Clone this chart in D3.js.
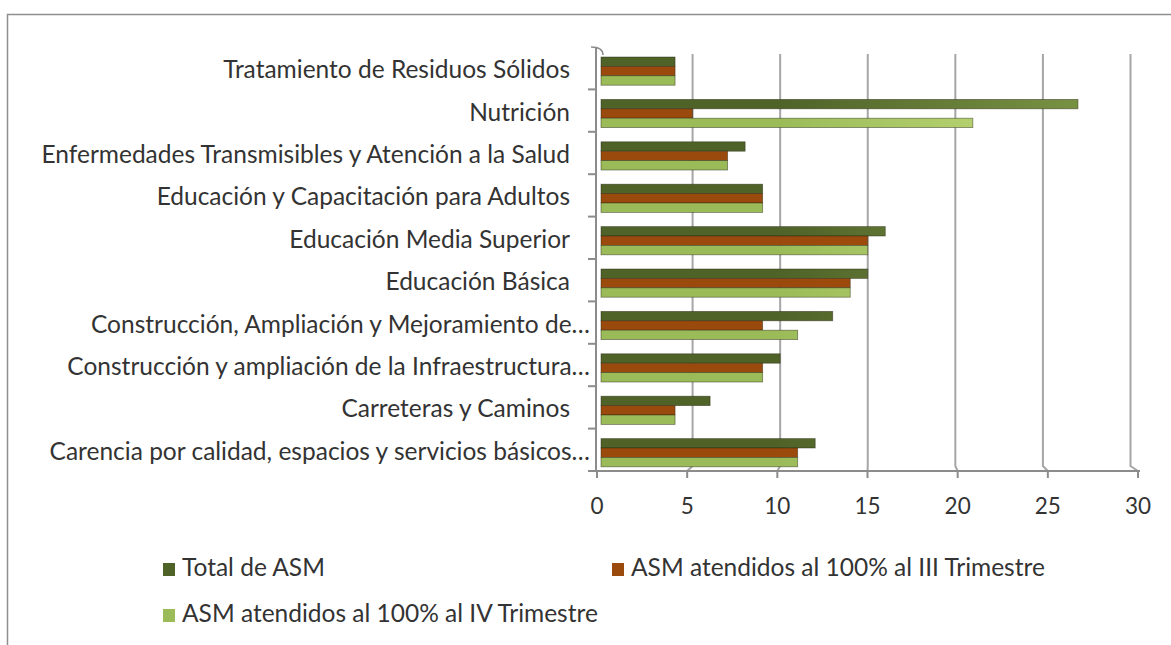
<!DOCTYPE html>
<html>
<head>
<meta charset="utf-8">
<script src="https://cdn.jsdelivr.net/npm/d3@7"></script>
<style>
  body { margin: 0; background: #fff; }
  text { font-family: Lato, "Open Sans", sans-serif; fill: #333; }
</style>
</head>
<body>
<div id="mainDiv"></div>
<script>
'use strict';

var categories = [
    "Tratamiento de Residuos Sólidos",
    "Nutrición",
    "Enfermedades Transmisibles y Atención a la Salud",
    "Educación y Capacitación para Adultos",
    "Educación Media Superior",
    "Educación Básica",
    "Construcción, Ampliación y Mejoramiento de…",
    "Construcción y ampliación de la Infraestructura…",
    "Carreteras y Caminos",
    "Carencia por calidad, espacios y servicios básicos…"
];
var totalASM = [4, 27, 8, 9, 16, 15, 13, 10, 6, 12];
var asmIII   = [4, 5, 7, 9, 15, 14, 9, 9, 4, 11];
var asmIV    = [4, 21, 7, 9, 15, 14, 11, 9, 4, 11];
var seriesNames = ["Total de ASM", "ASM atendidos al 100% al III Trimestre", "ASM atendidos al 100% al IV Trimestre"];
var xTicks = [0, 5, 10, 15, 20, 25, 30];

var myApp = {};

myApp.colors = [["#4f6228", "#7a9444"], ["#9a4a0c", "#a65012"], ["#9bbb59", "#c2dc7c"]];

myApp.appendSvg = function (element, w, h)
{
    return d3.select(element).append("svg")
        .attr("width", w)
        .attr("height", h);
}

myApp.drawChart = function (svg)
{
    var top = 47, bottom = 471;
    var depth = 5;

    // back wall scale (bars, gridlines) and front floor scale (ticks, labels)
    var x = d3.scaleLinear().domain([0, 30]).range([605, 1130.5]);
    var xFront = d3.scaleLinear().domain([0, 30]).range([597, 1138]);
    var y = d3.scaleBand().domain(categories).range([top, bottom]);

    // frame
    svg.append("rect")
        .attr("x", 7.5).attr("y", 14.5)
        .attr("width", 1300).attr("height", 700)
        .attr("fill", "none").attr("stroke", "#8e8e8e").attr("stroke-width", 1.5);

    var defs = svg.append("defs");
    myApp.colors.forEach(function (c, i) {
        var g = defs.append("linearGradient")
            .attr("id", "grad" + i)
            .attr("gradientUnits", "userSpaceOnUse")
            .attr("x1", x(0)).attr("x2", x(28)).attr("y1", 0).attr("y2", 0);
        g.append("stop").attr("offset", "0%").attr("stop-color", c[0]);
        g.append("stop").attr("offset", "35%").attr("stop-color", c[0]);
        g.append("stop").attr("offset", "100%").attr("stop-color", c[1]);
    });

    // gridlines with a small 3D bend toward the floor
    svg.append("g").selectAll("path")
        .data(xTicks.slice(1))
        .enter()
        .append("path")
            .attr("d", function (d) {
                return "M" + x(d) + "," + (top + 7) + "L" + x(d) + "," + (bottom - depth) +
                       "L" + xFront(d) + "," + bottom;
            })
            .attr("fill", "none")
            .attr("stroke", "#a6a6a6")
            .attr("stroke-width", 2);

    // left wall axis
    svg.append("path")
        .attr("d", "M" + (xFront(0) - 6) + "," + top + "Q" + (xFront(0) + 6) + "," + top + " " + (xFront(0) + 6) + "," + (top + 8))
        .attr("fill", "none").attr("stroke", "#8c8c8c").attr("stroke-width", 1.5);
    svg.append("line")
        .attr("x1", xFront(0) - 1).attr("x2", xFront(0) - 1)
        .attr("y1", top).attr("y2", bottom)
        .attr("stroke", "#8c8c8c").attr("stroke-width", 2);
    svg.append("g").selectAll("line")
        .data(categories.slice(1))
        .enter()
        .append("line")
            .attr("x1", xFront(0) - 9).attr("x2", xFront(0))
            .attr("y1", function (d) { return y(d); })
            .attr("y2", function (d) { return y(d); })
            .attr("stroke", "#8c8c8c").attr("stroke-width", 2);

    // bottom floor axis
    svg.append("line")
        .attr("x1", xFront(0) - 9).attr("x2", xFront(30) + 2)
        .attr("y1", bottom).attr("y2", bottom)
        .attr("stroke", "#8c8c8c").attr("stroke-width", 2);
    svg.append("g").selectAll("line")
        .data(xTicks)
        .enter()
        .append("line")
            .attr("x1", function (d) { return xFront(d); })
            .attr("x2", function (d) { return xFront(d); })
            .attr("y1", bottom).attr("y2", bottom + 7)
            .attr("stroke", "#8c8c8c").attr("stroke-width", 2);
    svg.append("g").selectAll("text")
        .data(xTicks)
        .enter()
        .append("text")
            .text(function (d) { return d; })
            .attr("x", function (d) { return xFront(d); })
            .attr("y", 514)
            .attr("text-anchor", "middle")
            .attr("font-size", "22.5px");

    // bars
    var series = [totalASM, asmIII, asmIV];
    var barH = 9.4;
    series.forEach(function (values, s) {
        svg.append("g").selectAll("rect")
            .data(values)
            .enter()
            .append("rect")
                .attr("x", x(0) - 4)
                .attr("y", function (d, i) { return y(categories[i]) + 10 + s * barH; })
                .attr("width", function (d) { return x(d) - x(0) + 4; })
                .attr("height", barH)
                .attr("fill", "url(#grad" + s + ")")
                .attr("stroke", "rgba(40,40,20,0.55)")
                .attr("stroke-width", 0.8);
    });

    // category labels
    svg.append("g").selectAll("text")
        .data(categories)
        .enter()
        .append("text")
            .text(function (d) { return d; })
            .attr("x", function (d) { return d.slice(-1) === "…" ? 590 : 570; })
            .attr("y", function (d) { return y(d) + y.bandwidth() / 2 + 10; })
            .attr("text-anchor", "end")
            .attr("font-size", "24.5px");

    // legend
    var legendPos = [[163, 576], [612, 576], [163, 622]];
    var legend = svg.append("g").selectAll("g")
        .data(seriesNames)
        .enter()
        .append("g")
            .attr("transform", function (d, i) { return "translate(" + legendPos[i][0] + "," + legendPos[i][1] + ")"; });
    legend.append("rect")
        .attr("x", 0).attr("y", -13)
        .attr("width", 12).attr("height", 13)
        .attr("fill", function (d, i) { return myApp.colors[i][0]; });
    legend.append("text")
        .text(function (d) { return d; })
        .attr("x", 19).attr("y", 0)
        .attr("font-size", "24.5px");
}

myApp.run = function ()
{
    var svg = myApp.appendSvg("#mainDiv", 1171, 645);
    myApp.drawChart(svg);
}

window.onload = myApp.run;
</script>
</body>
</html>
